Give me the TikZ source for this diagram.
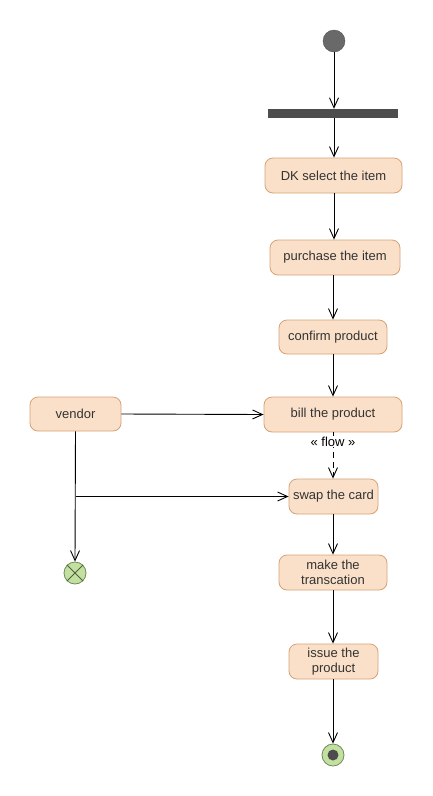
\documentclass[tikz,border=0pt]{standalone}
\usepackage{fontspec}
\setmainfont{Liberation Sans}
\usetikzlibrary{arrows.meta}
\definecolor{boxfill}{RGB}{250,224,200}
\definecolor{boxdraw}{RGB}{212,162,118}
\definecolor{txt}{RGB}{51,51,51}
\definecolor{startgray}{RGB}{105,105,105}
\definecolor{bargray}{RGB}{77,77,77}
\definecolor{endgreen}{RGB}{196,224,160}
\definecolor{endline}{RGB}{110,140,90}
\tikzset{
  act/.style={draw=boxdraw, fill=boxfill, rounded corners=8pt, line width=0.8pt,
    text=txt, font=\fontsize{13}{14.5}\selectfont, align=center, inner sep=0pt},
  flowarrow/.style={-{Straight Barb[length=10pt,width=9pt,line width=0.9pt]}, line width=0.9pt, black},
}
\begin{document}
\begin{tikzpicture}[x=1pt,y=-1pt]
\useasboundingbox (0,0) rectangle (432,796);
% start
\node[circle, fill=startgray, draw=startgray!80!black, line width=0.4pt, minimum size=22pt, inner sep=0pt] (start) at (334,41) {};
\node[fill=bargray, minimum width=130pt, minimum height=9pt, inner sep=0pt] (bar) at (333,113.5) {};
% activities
\node[act, minimum width=137pt, minimum height=35pt] (dk) at (333.5,175.5) {DK select the item};
\node[act, minimum width=130pt, minimum height=35pt] (purch) at (335,257.5) {purchase the item};
\node[act, minimum width=108pt, minimum height=34pt] (conf) at (333,337) {confirm product};
\node[act, minimum width=138pt, minimum height=35pt] (bill) at (333,414.5) {bill the product};
\node[act, minimum width=91pt, minimum height=34pt] (vendor) at (75.5,414) {vendor};
\node[act, minimum width=89pt, minimum height=35pt] (swap) at (333.5,496.5) {swap the card};
\node[act, minimum width=108pt, minimum height=35pt] (make) at (333,572.5) {make the\\transcation};
\node[act, minimum width=89pt, minimum height=35pt] (issue) at (333.5,661.5) {issue the\\product};
% end
\node[circle, fill=endgreen, draw=endline, line width=0.8pt, minimum size=22pt, inner sep=0pt] (end) at (333,755) {};
\node[circle, fill=bargray, minimum size=11pt, inner sep=0pt] (endin) at (333,755) {};
% flow final
\node[circle, fill=endgreen, draw=endline, line width=0.8pt, minimum size=22pt, inner sep=0pt] (ff) at (75,573) {};
\draw[endline!70!black, line width=0.8pt] (ff.north east) -- (ff.south west) (ff.north west) -- (ff.south east);
% connectors
\draw[flowarrow] (start.south) -- (bar.north -| start.south);
\draw[flowarrow] (bar.south -| start.south) -- (dk.north -| start.south);
\draw[flowarrow] (dk.south -| start.south) -- (purch.north -| start.south);
\draw[flowarrow] (purch.south -| conf.north) -- (conf.north);
\draw[flowarrow] (conf.south) -- (bill.north);
\draw[flowarrow] (vendor.east) -- (bill.west);
\draw[flowarrow, dashed, dash pattern=on 6pt off 4pt] (bill.south) -- node[fill=white, inner sep=1pt, pos=0.2, font=\fontsize{13}{14.5}\selectfont] (flowlbl) {« flow »} (swap.north -| bill.south);
\draw[flowarrow] (vendor.south) -- (ff.north);
\coordinate (br) at (vendor.south |- swap.west);
\draw[flowarrow] (br) -- (swap.west);
\draw[flowarrow] (swap.south -| make.north) -- (make.north);
\draw[flowarrow] (make.south) -- (issue.north -| make.south);
\draw[flowarrow] (issue.south -| end.north) -- (end.north);
\end{tikzpicture}
\end{document}
